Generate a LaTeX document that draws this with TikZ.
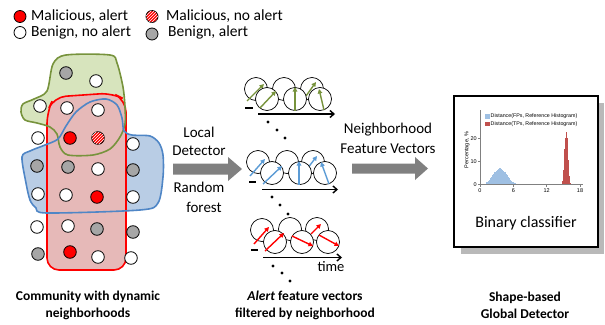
\documentclass[tikz,border=0pt]{standalone}
\usepackage{fontspec}
\setmainfont{Carlito}
\newfontfamily\plotfont{Liberation Sans}
\usetikzlibrary{arrows.meta,patterns}
\definecolor{gfill}{HTML}{D7E4BD}
\definecolor{gline}{HTML}{77933C}
\definecolor{bfill}{HTML}{B9CDE5}
\definecolor{bline}{HTML}{4F86C6}
\definecolor{rfill}{HTML}{E6B9B8}
\definecolor{mred}{HTML}{FF0000}
\definecolor{cgrey}{HTML}{A6A6A6}
\definecolor{vgreen}{HTML}{77933C}
\definecolor{vblue}{HTML}{5B9BD5}
\definecolor{blockgrey}{HTML}{808080}
\definecolor{hblue}{HTML}{9FC0E3}
\definecolor{hblueline}{HTML}{6F95BD}
\definecolor{hred}{HTML}{C0504D}
\begin{document}
\begin{tikzpicture}[x=1pt,y=-1pt,
  dotc/.style={circle,draw=black,line width=0.8pt,minimum size=12.6pt,inner sep=0pt},
  malal/.style={dotc,fill=mred},
  malna/.style={dotc,fill=mred,postaction={pattern=north east lines,pattern color=white}},
  benna/.style={dotc,fill=white},
  benal/.style={dotc,fill=cgrey},
  legtext/.style={anchor=west,inner sep=0pt,font=\fontsize{15.5}{16}\selectfont},
  midtext/.style={inner sep=0pt,font=\fontsize{15}{17}\selectfont},
  captext/.style={inner sep=0pt,align=center,font=\fontsize{13.5}{17}\selectfont\bfseries},
  vcirc/.style={draw=black,line width=0.7pt},
  vfront/.style={draw=black,fill=white,line width=0.7pt},
  vec/.style={line width=1.4pt,-{Triangle[length=4.5pt,width=4.5pt]}},
  taxis/.style={line width=1.4pt,-{Straight Barb[length=4pt,width=7pt]}},
  plottxt/.style={inner sep=0pt,font=\plotfont\fontsize{5.5}{6}\selectfont},
  legsmall/.style={inner sep=0pt,anchor=west,font=\plotfont\fontsize{5.3}{6}\selectfont}
]
\useasboundingbox (0,0) rectangle (605,324);

% ---------------- legend
\node[malal,minimum size=12pt] (l1) at (20,16.5) {};
\node[legtext] (l1t) at (31,16) {Malicious, alert};
\node[malna,minimum size=12pt] (l2) at (152,16.5) {};
\node[legtext] (l2t) at (166,16) {Malicious, no alert};
\node[benna,minimum size=12pt] (l3) at (20,32.5) {};
\node[legtext] (l3t) at (31,32.5) {Benign, no alert};
\node[benal,minimum size=12pt] (l4) at (152,34) {};
\node[legtext] (l4t) at (168,32.5) {Benign, alert};

% ---------------- community regions
\fill[gfill] plot[smooth cycle,tension=0.5] coordinates {(23,104) (34,99) (47,91) (53,64) (66,55) (110,55) (117,63) (123,87) (125,107) (125,124) (120,137) (110,149) (93,155) (68,155) (60,147) (57,134) (50,127) (37,123) (25,120) (21,112)};
\fill[bfill] plot[smooth cycle,tension=0.5] coordinates {(22,157) (30,151) (45,145) (58,139) (66,126) (76,112) (90,102) (106,99) (117,105) (122,118) (124,131) (132,135) (150,136) (159,143) (163,155) (163,177) (158,203) (140,210) (47,213) (36,208) (30,200) (26,183)};
\fill[rfill,rounded corners=12] (47,180) -- (47,112) -- (54,97) -- (112,93) -- (126,100) -- (126,270) -- (47,270) -- cycle;
\draw[mred,line width=1.6pt,rounded corners=12] (47,180) -- (47,112) -- (54,97) -- (112,93) -- (126,100) -- (126,270) -- (47,270) -- cycle;
\draw[gline,line width=1.6pt] plot[smooth cycle,tension=0.5] coordinates {(23,104) (34,99) (47,91) (53,64) (66,55) (110,55) (117,63) (123,87) (125,107) (125,124) (120,137) (110,149) (93,155) (68,155) (60,147) (57,134) (50,127) (37,123) (25,120) (21,112)};
\draw[bline,line width=1.6pt] plot[smooth cycle,tension=0.5] coordinates {(22,157) (30,151) (45,145) (58,139) (66,126) (76,112) (90,102) (106,99) (117,105) (122,118) (124,131) (132,135) (150,136) (159,143) (163,155) (163,177) (158,203) (140,210) (47,213) (36,208) (30,200) (26,183)};

% ---------------- community members
\foreach \px/\py/\st [count=\i] in {66/73/benal, 96/81/benna, 40/106/benna, 67/108/benna, 98/110/benna,
  38/138/benna, 70/138/malal, 98/138/malna, 133/144/benna,
  37/166/benal, 68/167/benal, 98/169/benna, 133/170/benal,
  38/194/benna, 66/195/benna, 97/197/malal, 133/197/benna,
  37/227/benna, 68/226/benna, 97/229/benal, 133/232/benal,
  38/254/benal, 70/252/malal, 98/257/benna, 131/258/benna}
  \node[\st] (c\i) at (\px,\py) {};

% ---------------- block arrow 1
\fill[blockgrey] (173,163.5) -- (228,163.5) -- (228,157) -- (242,169) -- (228,181) -- (228,174.5) -- (173,174.5) -- cycle;
\node[midtext] (loc) at (199,132) {Local};
\node[midtext] (det) at (199,151) {Detector};
\node[midtext] (ran) at (199,187) {Random};
\node[midtext] (for) at (204,207) {forest};

% ---------------- feature vector row 1 (green)
\draw[vcirc] (256,89) circle (11.5) (284,89) circle (11.5) (312,89) circle (11.5);
\draw[vec,vgreen] (247,101) -- (264,84);
\draw[vec,vgreen] (306,96) -- (316,82);
\draw[vfront] (267,99) circle (11.5) (295,99) circle (11.5) (320,99) circle (11.5);
\draw[vec,vgreen] (260,108) -- (276,91);
\draw[vec,vgreen] (295,110.5) -- (295,87);
\draw[vec,vgreen] (324,110) -- (319,89);
\draw[line width=1.2pt] (245,108) -- (253,108);
\draw[taxis] (258,114) -- (335,114);

% ---------------- row 2 (blue)
\draw[vcirc] (258,162) circle (11.5) (287,162) circle (11.5) (313,162) circle (11.5);
\draw[vec,vblue] (250,176) -- (265,159);
\draw[vec,vblue] (307,169) -- (317,156);
\draw[vfront] (272,173) circle (11.5) (300,173) circle (11.5) (325,173) circle (11.5);
\draw[vec,vblue] (263,184) -- (282,166);
\draw[vec,vblue] (299,184.5) -- (299,161);
\draw[vec,vblue] (329,184) -- (321,162);
\draw[line width=1.2pt] (249,182) -- (256,182);
\draw[taxis] (262,189.5) -- (338,189.5);

% ---------------- row 3 (red)
\draw[vcirc] (262,230) circle (11.5) (290,229) circle (11.5) (317,229) circle (11.5);
\draw[vec,mred] (254,244) -- (269,227);
\draw[vec,mred] (311,234) -- (321,224);
\draw[vfront] (275,242) circle (11.5) (302,242) circle (11.5) (328,242) circle (11.5);
\draw[vec,mred] (265,251) -- (284,233);
\draw[vec,mred] (292,236) -- (313,246);
\draw[vec,mred] (319,235) -- (339,246);
\draw[line width=1.2pt] (251,250) -- (258,250);
\draw[taxis] (263,257.5) -- (342,257.5);
\node[midtext,font=\fontsize{14.5}{16}\selectfont] (time) at (331,267) {time};

% ---------------- dots
\foreach \dx/\dy in {268/122, 277/130, 285/138, 272/197, 280/205, 288/214, 273/266, 282/273, 290/281}
  \fill (\dx,\dy) circle (1.6);

% ---------------- block arrow 2
\fill[blockgrey] (352,163.5) -- (415,163.5) -- (415,157) -- (428,168.5) -- (415,180) -- (415,173.5) -- (352,173.5) -- cycle;
\node[midtext] (nb) at (388,130) {Neighborhood};
\node[midtext] (fv) at (388,149) {Feature Vectors};

% ---------------- global detector panel
\fill[gray!55] (461,103) rectangle (604,254);
\draw[fill=white,line width=1.4pt] (454,96) rectangle (598,247);
% histograms
\foreach \u in {1.0,1.2,...,6.6} {
  \pgfmathsetmacro\hh{7*exp(-((\u-3.5)^2)/3.0)}
  \fill[hblue] ({480+\u*5.556},184.5) rectangle ({480+\u*5.556+1.11},{184.5-\hh*2.31});
}
\foreach \u in {14.5,14.6,...,16.5} {
  \pgfmathsetmacro\hh{23*exp(-((\u-15.45)^2)/0.16)}
  \fill[hred] ({480+\u*5.556},184.5) rectangle ({480+\u*5.556+0.556},{184.5-\hh*2.31});
}
% axes
\draw[gray,line width=0.5pt] (480,110) -- (480,184.5) -- (583,184.5);
\foreach \t/\lab in {0/0, 6/6, 12/12, 18/18} {
  \draw[gray,line width=0.4pt] ({480+\t*5.556},184.5) -- ({480+\t*5.556},186.5);
  \node[plottxt] at ({480+\t*5.556},191) {\lab};
}
\foreach \t/\lab in {0/0, 10/10, 20/20} {
  \draw[gray,line width=0.4pt] (480,{184.5-\t*2.31}) -- (478,{184.5-\t*2.31});
  \node[plottxt,anchor=east] at (477,{184.5-\t*2.31}) {\lab};
}
\node[plottxt,rotate=90] (ylab) at (467,150) {Percentage, \%};
\fill[hblue] (485,114) rectangle (489.5,118.5);
\node[legsmall] (hl1) at (490.5,116.3) {Distance(FPs, Reference Histogram)};
\fill[hred] (485,121.5) rectangle (489.5,126);
\node[legsmall] (hl2) at (490.5,123.8) {Distance(TPs, Reference Histogram)};
\node[midtext,font=\fontsize{16}{18}\selectfont] (bc) at (526,223) {Binary classifier};

% ---------------- captions
\node[captext] (cap1) at (88,305) {Community with dynamic\\neighborhoods};
\node[captext] (cap2) at (305,305) {\textit{Alert} feature vectors\\filtered by neighborhood};
\node[captext] (cap3) at (525,305) {Shape-based\\Global Detector};
\end{tikzpicture}
\end{document}
